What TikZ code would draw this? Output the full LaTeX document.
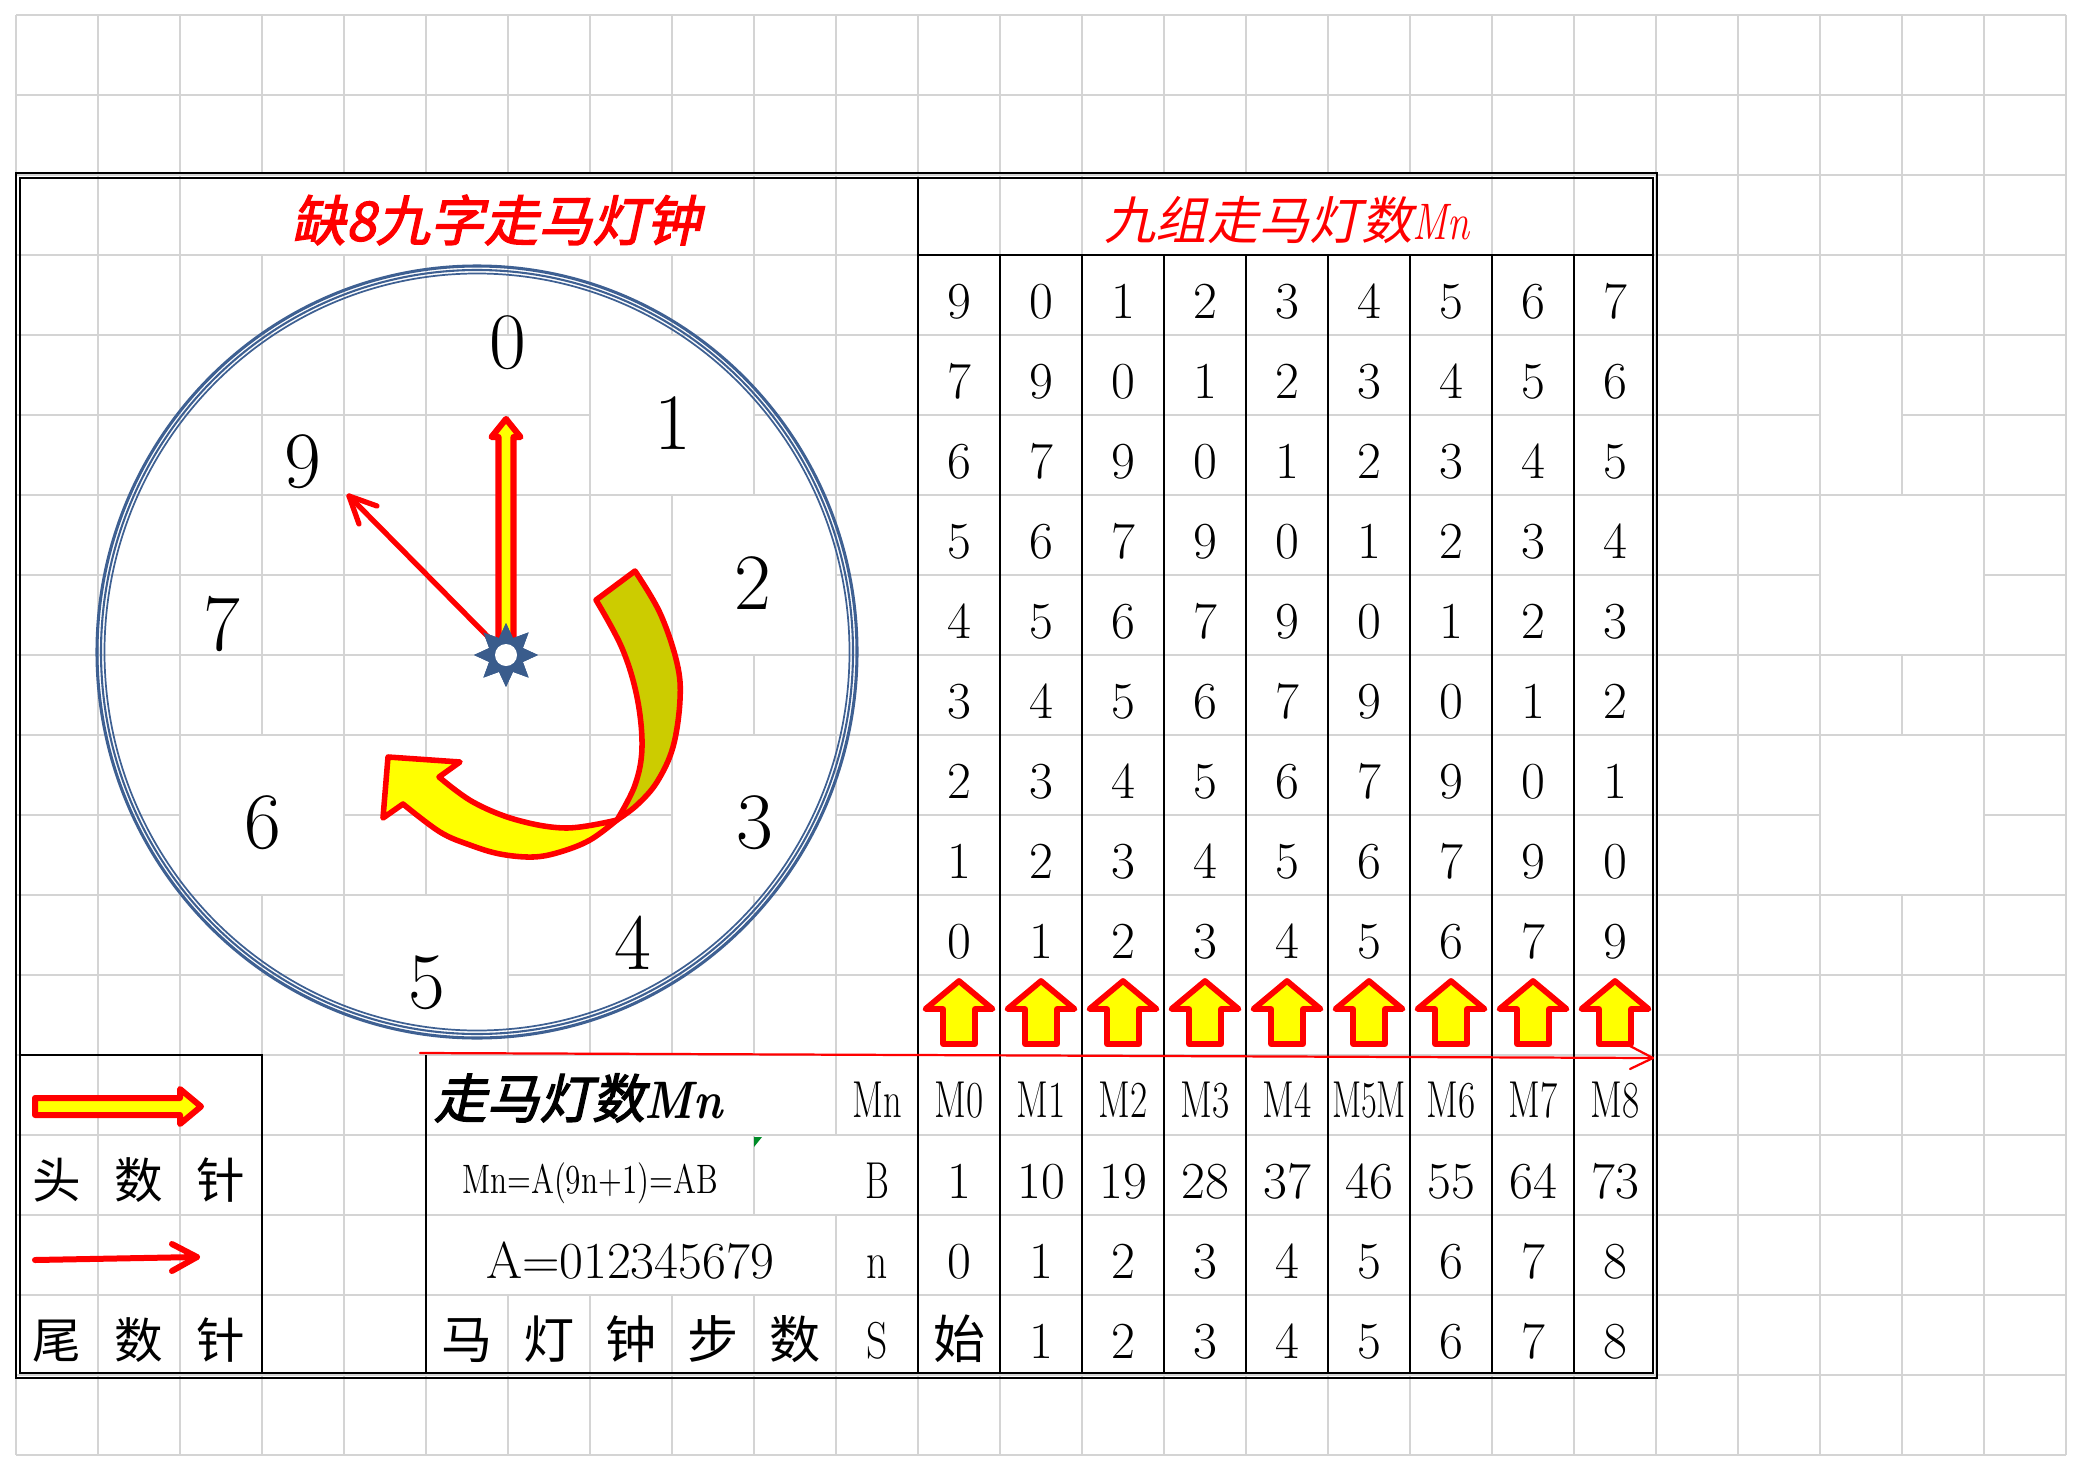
\documentclass[tikz,border=0pt]{standalone}
\usepackage{fontspec}
\usepackage{graphicx}
\usetikzlibrary{shapes.geometric}
\newfontfamily\cjk{Noto Sans CJK SC}
\newfontfamily\cjksl{Noto Sans CJK SC}[FakeSlant=0.22]
\newfontfamily\cjkbsl{Noto Sans CJK SC}[FakeSlant=0.22,FakeBold=2.5]
\definecolor{gridc}{RGB}{212,212,212}
\definecolor{ringc}{RGB}{62,96,146}
\definecolor{starc}{RGB}{58,92,140}
\definecolor{olivec}{RGB}{204,204,0}
\definecolor{yelc}{RGB}{255,255,0}
\definecolor{redc}{RGB}{255,0,0}
\definecolor{tric}{RGB}{0,140,40}
\newcommand{\sqz}[2]{\scalebox{#1}[1]{#2}}
\tikzset{
  gl/.style={draw=gridc,line width=0.55pt},
  tl/.style={draw=black,line width=0.75pt},
  hid/.style={fill=white,draw=none},
  tnum/.style={inner sep=0pt,anchor=base,font=\fontsize{18.7}{20}\selectfont},
  cnum/.style={inner sep=0pt,font=\fontsize{28.8}{30}\selectfont},
  cjkt/.style={inner sep=0pt,anchor=base,font=\cjk\fontsize{17.5}{19}\selectfont},
  blk/.style={draw=redc,fill=yelc,line width=2.1pt,line join=round},
  rl/.style={draw=redc,line cap=round,line join=round},
}
\begin{document}
\begin{tikzpicture}[x=0.36pt,y=-0.36pt]
\useasboundingbox (0,0) rectangle (2082,1472);
\fill[white] (0,0) rectangle (2082,1472);
% spreadsheet grid
\foreach \i in {0,...,25} \draw[gl] ({16+82*\i},15) -- ({16+82*\i},1455);
\foreach \j in {0,...,18} \draw[gl] (16,{15+80*\j}) -- (2066,{15+80*\j});
% merged cells hide grid lines
\foreach \a/\b/\c/\d in {181/176/753/254, 1084/176/1491/254, 427/336/589/414, 591/336/753/494,
  673/496/835/654, 673/736/835/894, 345/896/507/1054, 181/736/343/894,
  427/1056/835/1134, 427/1136/753/1214, 755/1136/917/1214, 427/1216/835/1294,
  1821/336/1901/494, 1821/496/1983/654, 1821/736/1983/894}
  \fill[hid] (\a,\b) rectangle (\c,\d);
% table frame
\draw[tl,line width=0.6pt] (16,173) rectangle (1657,1378);
\draw[tl,line width=0.6pt] (20,178) rectangle (1653,1373);
\draw[tl] (918,178) -- (918,1373);
\draw[tl] (918,255) -- (1653,255);
\foreach \k in {1,...,8} \draw[tl] ({918+82*\k},255) -- ({918+82*\k},1373);
\draw[tl] (20,1055) -- (262,1055) -- (262,1373);
\draw[tl] (426,1055) -- (426,1373);
% clock ring (thick - thin - thin)
\draw[ringc,line width=1.1pt] (477,652) ellipse [x radius=380, y radius=386];
\draw[ringc,line width=0.75pt] (477,652) ellipse [x radius=376, y radius=382];
\draw[ringc,line width=0.62pt] (477,652) ellipse [x radius=372.5, y radius=378.5];
% curved arrow
\path[draw=redc,fill=olivec,line width=2pt,line join=round]
  plot[smooth,tension=0.6] coordinates {(635,571) (660,613) (677,663) (680,700) (673,747) (657,782) (637,805) (617,820)}
  -- plot[smooth,tension=0.6] coordinates {(617,820) (635,785) (642,747) (637,697) (622,648) (596,600)}
  -- cycle;
\path[draw=redc,fill=yelc,line width=2pt,line join=round]
  plot[smooth,tension=0.6] coordinates {(617,820) (590,840) (560,852) (533,857) (500,854) (470,845) (440,832) (403,804)}
  -- (383,818) -- (388,757) -- (460,762) -- (439,777)
  -- plot[smooth,tension=0.6] coordinates {(439,777) (473,802) (517,820) (567,828) (617,820)}
  -- cycle;
% hour hand
\path[blk,line width=2.2pt] (498.5,652) -- (498.5,437) -- (491.5,437) -- (506,419) -- (520.5,437) -- (513.5,437) -- (513.5,652) -- cycle;
% minute hand
\coordinate (mtip) at (349,496);
\coordinate (mb1) at (377,506);
\coordinate (mb2) at (359,524);
\node[star,star points=8,star point ratio=1.75,minimum size=23pt,inner sep=0pt,fill=starc,draw=none] (hub) at (506,655) {};
\draw[rl,line width=1.9pt] (hub.center) -- (mtip);
\draw[rl,line width=1.9pt] (mb1) -- (mtip) -- (mb2);
\node[star,star points=8,star point ratio=1.75,minimum size=23pt,inner sep=0pt,fill=starc,draw=none] (hub2) at (506,655) {};
\fill[white] (hub2.center) circle [radius=11];
% clock numbers
\node[cnum] (n0) at (508,343) {0};
\node[cnum] (n1) at (673,423) {1};
\node[cnum] (n2) at (753,583) {2};
\node[cnum] (n3) at (755,823) {3};
\node[cnum] (n4) at (633,943) {4};
\node[cnum] (n5) at (427,983) {5};
\node[cnum] (n6) at (263,823) {6};
\node[cnum] (n7) at (222,624) {7};
\node[cnum] (n9) at (303,462) {9};
% titles
\node[inner sep=0pt,text=redc,font=\cjkbsl\fontsize{19.5}{20}\selectfont] (title) at (496,220) {缺8九字走马灯钟};
\node[inner sep=0pt,text=redc,font=\cjksl\fontsize{18.5}{20}\selectfont] (hdr) at (1287,220) {九组走马灯数\sqz{0.78}{\rmfamily\itshape Mn}};
% table digits
\foreach \row [count=\ri from 0] in {{9,0,1,2,3,4,5,6,7},{7,9,0,1,2,3,4,5,6},{6,7,9,0,1,2,3,4,5},{5,6,7,9,0,1,2,3,4},{4,5,6,7,9,0,1,2,3},{3,4,5,6,7,9,0,1,2},{2,3,4,5,6,7,9,0,1},{1,2,3,4,5,6,7,9,0},{0,1,2,3,4,5,6,7,9}}
  \foreach \d [count=\ci from 0] in \row
    \node[tnum] (d\ri-\ci) at ({959+82*\ci},{318+80*\ri}) {\d};
% long red arrow
\coordinate (ra) at (420,1053);
\coordinate (rb) at (1653,1058);
\draw[rl,line width=0.8pt] (ra) -- (rb);
\draw[rl,line width=0.8pt] (1630,1046) -- (rb) -- (1630,1069);
% up arrows
\foreach \c in {0,...,8}
  \path[blk] ({959+82*\c},981) -- ({959+82*\c+33.5},1009) -- ({959+82*\c+16},1009) -- ({959+82*\c+16},1044)
     -- ({959+82*\c-16},1044) -- ({959+82*\c-16},1009) -- ({959+82*\c-33.5},1009) -- cycle;
% bottom rows of data table
\foreach \t/\s [count=\ci from 0] in {M0/0.72,M1/0.72,M2/0.72,M3/0.72,M4/0.72,M5M/0.66,M6/0.72,M7/0.72,M8/0.72}
  \node[tnum] (m\ci) at ({959+82*\ci},1117) {\sqz{\s}{\t}};
\foreach \t [count=\ci from 0] in {1,10,19,28,37,46,55,64,73}
  \node[tnum] (b\ci) at ({959+82*\ci},1198) {\t};
\foreach \t [count=\ci from 0] in {0,1,2,3,4,5,6,7,8}
  \node[tnum] (k\ci) at ({959+82*\ci},1278) {\t};
\foreach \t [count=\ci from 0] in {{\cjk 始},1,2,3,4,5,6,7,8}
  \node[tnum] (s\ci) at ({959+82*\ci},1358) {\t};
% label column
\node[tnum] (lMn) at (877,1117) {\sqz{0.7}{Mn}};
\node[tnum] (lB) at (877,1198) {\sqz{0.7}{B}};
\node[tnum] (ln) at (877,1278) {\sqz{0.8}{n}};
\node[tnum] (lS) at (877,1358) {\sqz{0.8}{S}};
% bottom table
\node[inner sep=0pt,anchor=base,font=\cjkbsl\fontsize{19}{20}\selectfont] (zm) at (578,1118) {走马灯数\sqz{0.85}{\rmfamily\bfseries\itshape Mn}};
\node[inner sep=0pt,anchor=base,font=\fontsize{14.8}{16}\selectfont] (formula) at (590,1193) {\sqz{0.76}{Mn=A(9n+1)=AB}};
\node[tnum] (aval) at (630,1278) {A=012345679};
\foreach \t [count=\ci from 0] in {马,灯,钟,步,数}
  \node[cjkt,font=\cjk\fontsize{18.4}{19}\selectfont] (w\ci) at ({467+82*\ci},1358) {\t};
\fill[tric] (754,1137) -- (762,1137) -- (754,1147) -- cycle;
% bottom-left legend
\path[blk,line width=2.16pt] (35,1098) -- (180,1098) -- (180,1089) -- (201,1106.5) -- (180,1124) -- (180,1115) -- (35,1115) -- cycle;
\coordinate (ta) at (35,1260);
\coordinate (tb) at (197,1257);
\draw[rl,line width=2.16pt] (ta) -- (tb);
\draw[rl,line width=2.16pt] (172,1244) -- (tb) -- (172,1271);
\foreach \t [count=\ci from 0] in {头,数,针}
  \node[cjkt] (h\ci) at ({57+82*\ci},1198) {\t};
\foreach \t [count=\ci from 0] in {尾,数,针}
  \node[cjkt] (e\ci) at ({57+82*\ci},1358) {\t};
\end{tikzpicture}
\end{document}
